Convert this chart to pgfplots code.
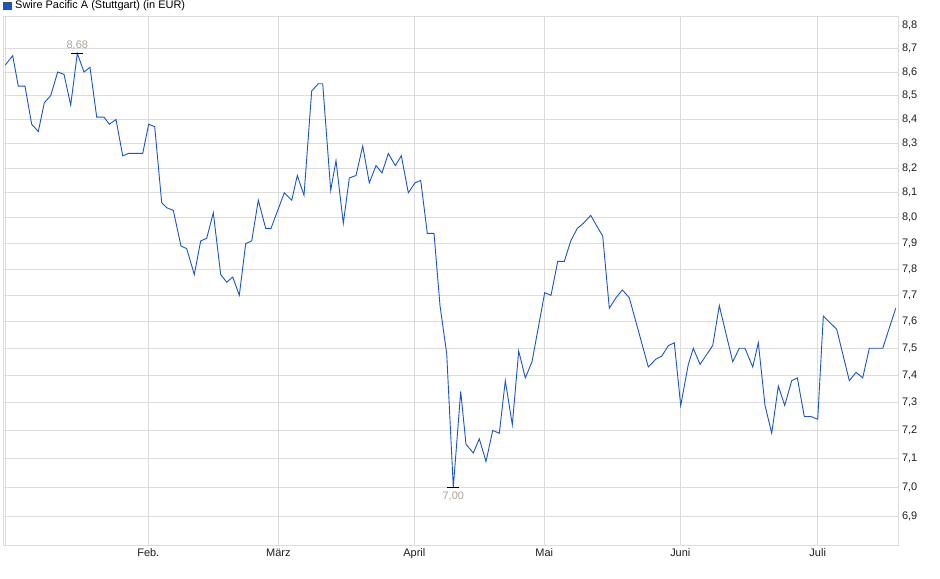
\documentclass[border=0pt]{standalone}
\usepackage{fontspec}
\setmainfont{Liberation Sans}
\usepackage{pgfplots}
\pgfplotsset{compat=1.18}
\definecolor{linie}{RGB}{25,85,200}
\definecolor{gitter}{RGB}{220,220,220}
\definecolor{anno}{RGB}{172,162,152}

\begin{document}
\begin{tikzpicture}[x=1bp,y=1bp]
\useasboundingbox (0,0) rectangle (940,579);
\fill[white] (0,0) rectangle (940,579);
% Titel mit Legendenkästchen
\filldraw[fill=linie, draw=black!70, line width=0.6pt] (3.5,569.5) rectangle (11,577);
\node[anchor=west, inner sep=0pt, font=\fontsize{11}{13}\selectfont] at (15,573) {Swire Pacific A (Stuttgart) (in EUR)};
\begin{axis}[
    at={(3bp,34bp)}, anchor=south west,
    scale only axis, width=895bp, height=529bp,
    xmin=3, xmax=898,
    ymode=log, ymin=6.8025, ymax=8.8424,
    axis line style={gitter, line width=0.8pt},
    major tick length=0pt,
    grid=major,
    major grid style={gitter, line width=0.8pt},
    xtick={148.3,278.3,414.3,544.3,680.3,817.7},
    xticklabels={Feb.,März,April,Mai,Juni,Juli},
    extra x ticks={5.2},
    extra x tick labels={},
    extra x tick style={grid=major},
    ytick={6.9,7.0,7.1,7.2,7.3,7.4,7.5,7.6,7.7,7.8,7.9,8.0,8.1,8.2,8.3,8.4,8.5,8.6,8.7},
    yticklabels={{6,9},{7,0},{7,1},{7,2},{7,3},{7,4},{7,5},{7,6},{7,7},{7,8},{7,9},{8,0},{8,1},{8,2},{8,3},{8,4},{8,5},{8,6},{8,7}},
    extra y ticks={8.8},
    extra y tick labels={8{,}8},
    extra y tick style={grid=none},
    yticklabel pos=right,
    ticklabel style={font=\fontsize{11}{13}\selectfont, text=black!88},
    yticklabel style={anchor=west, xshift=0.5bp},
    xticklabel style={yshift=-0.5bp},
    clip=false,
]
% Kursverlauf (x = Bildspalte, y = Kurs in EUR)
\addplot[linie, line width=0.9pt] coordinates {
(5.3,8.63) (12.7,8.67) (18.3,8.54) (25,8.54) (31.7,8.38) (38.3,8.35)
(44.3,8.47) (50.7,8.50) (57.7,8.60) (64,8.59) (70.7,8.46) (77.3,8.68)
(84,8.60) (90,8.62) (96.7,8.41) (104,8.41) (109.3,8.38) (116,8.40)
(122.7,8.25) (128.7,8.26) (142.7,8.26) (148.7,8.38) (154.7,8.37)
(161.7,8.06) (166.7,8.04) (173.3,8.03) (181,7.89) (186.7,7.88)
(194.3,7.78) (200.7,7.91) (206.7,7.92) (213.3,8.02) (220.7,7.78)
(226.7,7.75) (232.7,7.77) (239.3,7.70) (245.7,7.90) (251.7,7.91)
(258.3,8.07) (265.7,7.96) (271,7.96) (284.3,8.10) (291.7,8.07)
(297.3,8.17) (304,8.09) (311.7,8.52) (318.3,8.55) (322.7,8.55)
(330.7,8.11) (336,8.23) (343.3,7.98) (349.3,8.16) (356,8.17)
(362.7,8.29) (369.3,8.14) (376,8.21) (382,8.18) (388.3,8.26)
(395.3,8.21) (401.3,8.25) (408.3,8.10) (415,8.14) (420.7,8.15)
(427.3,7.94) (434,7.94) (440,7.66) (446.7,7.48) (453.3,7.00)
(460.7,7.34) (466,7.15) (473.3,7.12) (479.3,7.17) (486,7.09)
(492.7,7.20) (499.3,7.19) (505.3,7.38) (512.3,7.22) (518.7,7.49)
(525.3,7.39) (532,7.45) (544.7,7.71) (551,7.70) (557.7,7.83)
(564.3,7.83) (570.7,7.91) (577.3,7.96) (583.3,7.98) (590.7,8.01)
(596.7,7.97) (602.7,7.93) (609.3,7.65) (616,7.69) (622.3,7.72)
(629.3,7.69) (648.3,7.43) (656,7.46) (661.7,7.47) (668.3,7.51)
(674.3,7.52) (680.7,7.29) (688.3,7.44) (693.3,7.50) (700,7.44)
(712.7,7.51) (719.3,7.66) (732.7,7.45) (739.3,7.50) (745,7.50)
(752.7,7.43) (758.3,7.52) (765,7.29) (771.7,7.19) (778.3,7.36)
(784.7,7.29) (791.7,7.38) (797.3,7.39) (804.3,7.25) (811,7.25)
(817.7,7.24) (823.3,7.62) (836.7,7.57) (849.3,7.38) (856,7.41)
(862.7,7.39) (869.3,7.50) (882.7,7.50) (895.7,7.65)
};
% Hoch und Tief
\addplot[only marks, mark=-, mark size=6bp, mark options={black, line width=0.8pt}]
  coordinates {(77.3,8.68) (453.3,7.00)};
\node[above, text=anno, font=\fontsize{11}{13}\selectfont] at (axis cs:77.3,8.68) {8,68};
\node[below, text=anno, font=\fontsize{11}{13}\selectfont, yshift=-1bp] at (axis cs:453.3,7.00) {7,00};
\end{axis}
\end{tikzpicture}
\end{document}
